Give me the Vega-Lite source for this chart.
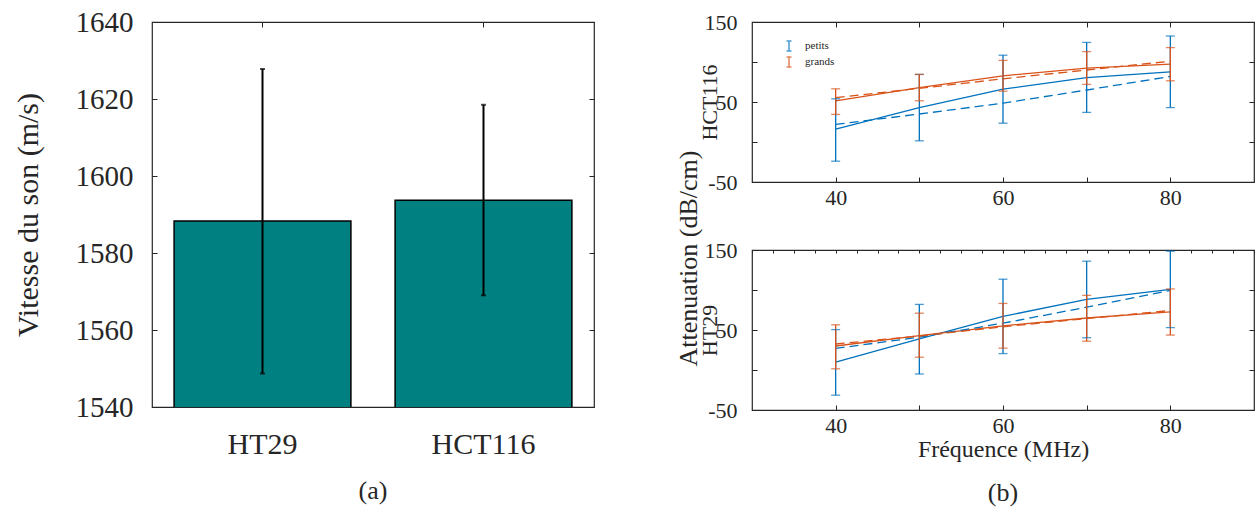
{
  "$schema": "https://vega.github.io/schema/vega-lite/v6.json",
  "padding": {"left": 12, "top": 7, "right": 0, "bottom": 0},
  "background": "white",
  "config": {
    "font": "Liberation Serif",
    "view": {"stroke": "#262626", "strokeWidth": 1.2},
    "style": {"guide-label": {"font": "Liberation Serif", "fill": "#262626"}, "guide-title": {"font": "Liberation Serif", "fill": "#262626", "fontWeight": "normal"}},
    "axis": {"grid": false, "domain": false, "labelFlush": false, "tickColor": "#262626", "tickSize": 5, "offset": -5, "labelColor": "#262626", "titleColor": "#262626", "titleFontWeight": "normal", "labelFont": "Liberation Serif", "titleFont": "Liberation Serif"},
    "title": {"font": "Liberation Serif", "fontWeight": "normal", "color": "#262626"}
  },
  "datasets": {
    "speed": [
      {"line": "HT29", "mean": 1588.3, "lo": 1548.7, "hi": 1627.8},
      {"line": "HCT116", "mean": 1593.7, "lo": 1569.0, "hi": 1618.5}
    ],
    "att": [
      {"line": "HCT116", "size": "petits", "f": 40, "mean": 16, "lo": -24, "hi": 54, "fit": 22},
      {"line": "HCT116", "size": "petits", "f": 50, "mean": 43, "lo": 1.5, "hi": 84.5, "fit": 35},
      {"line": "HCT116", "size": "petits", "f": 60, "mean": 66, "lo": 23.5, "hi": 108.5, "fit": 48.5},
      {"line": "HCT116", "size": "petits", "f": 70, "mean": 80.5, "lo": 37, "hi": 124.5, "fit": 65},
      {"line": "HCT116", "size": "petits", "f": 80, "mean": 87.7, "lo": 43, "hi": 132.5, "fit": 82},
      {"line": "HCT116", "size": "grands", "f": 40, "mean": 51.5, "lo": 34.5, "hi": 66.5, "fit": 55.5},
      {"line": "HCT116", "size": "grands", "f": 50, "mean": 68, "lo": 51.5, "hi": 84.5, "fit": 67},
      {"line": "HCT116", "size": "grands", "f": 60, "mean": 82.7, "lo": 63.5, "hi": 102, "fit": 79},
      {"line": "HCT116", "size": "grands", "f": 70, "mean": 92.4, "lo": 72, "hi": 113, "fit": 90},
      {"line": "HCT116", "size": "grands", "f": 80, "mean": 97.4, "lo": 76.5, "hi": 118, "fit": 101},
      {"line": "HT29", "size": "petits", "f": 40, "mean": 9.7, "lo": -31.5, "hi": 50.5, "fit": 27},
      {"line": "HT29", "size": "petits", "f": 50, "mean": 39, "lo": -5, "hi": 82, "fit": 41},
      {"line": "HT29", "size": "petits", "f": 60, "mean": 67, "lo": 20.5, "hi": 113.5, "fit": 58.5},
      {"line": "HT29", "size": "petits", "f": 70, "mean": 88.2, "lo": 40.3, "hi": 136, "fit": 78.5},
      {"line": "HT29", "size": "petits", "f": 80, "mean": 100.8, "lo": 53, "hi": 148.5, "fit": 99.5},
      {"line": "HT29", "size": "grands", "f": 40, "mean": 30, "lo": 1.5, "hi": 56.5, "fit": 32.5},
      {"line": "HT29", "size": "grands", "f": 50, "mean": 43, "lo": 16, "hi": 71, "fit": 42.5},
      {"line": "HT29", "size": "grands", "f": 60, "mean": 55.2, "lo": 27.3, "hi": 83.2, "fit": 54},
      {"line": "HT29", "size": "grands", "f": 70, "mean": 65, "lo": 36, "hi": 93.3, "fit": 64.3},
      {"line": "HT29", "size": "grands", "f": 80, "mean": 72.6, "lo": 43.7, "hi": 101.3, "fit": 74.4}
    ]
  },
  "bounds": "flush",
  "spacing": 158,
  "hconcat": [
    {
      "width": 442,
      "height": 385,
      "data": {"name": "speed"},
      "title": {"text": "(a)", "orient": "bottom", "fontSize": 26, "offset": 19},
      "resolve": {"axis": {"x": "independent", "y": "independent"}},
      "layer": [
        {"mark": {"type": "bar", "fill": "#008080", "stroke": "black", "strokeWidth": 1.5, "clip": true},
          "encoding": {
            "x": {"field": "line", "type": "nominal", "sort": ["HT29", "HCT116"], "scale": {"paddingInner": 0.2, "paddingOuter": 0.1},
              "axis": {"title": null, "labelAngle": 0, "labelFontSize": 30, "labelPadding": 22}},
            "y": {"field": "mean", "type": "quantitative", "scale": {"domain": [1540, 1640], "zero": false, "nice": false},
              "axis": {"title": "Vitesse du son (m/s)", "titleFontSize": 30, "values": [1540, 1560, 1580, 1600, 1620, 1640], "format": "d", "labelFontSize": 29, "labelPadding": 19, "titlePadding": 32}}}},
        {"mark": {"type": "rule", "color": "black", "strokeWidth": 2}, "encoding": {
          "x": {"field": "line", "type": "nominal", "sort": ["HT29", "HCT116"], "axis": null},
          "y": {"field": "lo", "type": "quantitative", "axis": null}, "y2": {"field": "hi"}}},
        {"mark": {"type": "tick", "color": "black", "size": 5, "thickness": 2, "orient": "horizontal"}, "encoding": {
          "x": {"field": "line", "type": "nominal", "sort": ["HT29", "HCT116"], "axis": null},
          "y": {"field": "lo", "type": "quantitative", "axis": null}}},
        {"mark": {"type": "tick", "color": "black", "size": 5, "thickness": 2, "orient": "horizontal"}, "encoding": {
          "x": {"field": "line", "type": "nominal", "sort": ["HT29", "HCT116"], "axis": null},
          "y": {"field": "hi", "type": "quantitative", "axis": null}}},
        {"mark": {"type": "point", "opacity": 0}, "encoding": {
          "x": {"field": "line", "type": "nominal", "sort": ["HT29", "HCT116"], "axis": {"orient": "top", "labels": false, "title": null}},
          "y": {"field": "mean", "type": "quantitative", "axis": {"orient": "right", "labels": false, "title": null, "values": [1540, 1560, 1580, 1600, 1620, 1640]}}}}
      ]
    },
    {
      "title": {"text": "Attenuation (dB/cm)", "orient": "left", "anchor": "middle", "fontSize": 26, "offset": -5},
      "bounds": "flush",
      "spacing": 68,
      "resolve": {"scale": {"color": "independent"}, "legend": {"color": "independent"}},
      "vconcat": [
        {
          "width": 502,
          "height": 160,
          "data": {"name": "att"},
          "transform": [{"filter": "datum.line == 'HCT116'"}],
          "resolve": {"axis": {"x": "independent", "y": "independent"}},
          "layer": [
            {"mark": {"type": "line", "strokeWidth": 1.3}, "encoding": {
              "x": {"field": "f", "type": "quantitative", "scale": {"domain": [30, 90], "nice": false},
                "axis": {"title": null, "values": [40, 50, 60, 70, 80], "labelExpr": "datum.value % 20 == 0 ? datum.label : ''", "labelFontSize": 22, "labelPadding": 5}},
              "y": {"field": "mean", "type": "quantitative", "scale": {"domain": [-50, 150], "nice": false},
                "axis": {"title": "HCT116", "titleFontSize": 22, "values": [-50, 0, 50, 100, 150], "labelExpr": "abs(datum.value) % 100 == 50 ? '' + datum.value : ''", "labelFontSize": 22, "labelPadding": 15, "titlePadding": -17}},
              "color": {"field": "size", "type": "nominal", "scale": {"domain": ["petits", "grands"], "range": ["#0072BD", "#D95319"]},
                "legend": {"title": null, "orient": "none", "legendX": 31, "legendY": 18, "padding": 0, "labelFontSize": 11, "labelColor": "#262626", "symbolType": "M0,-1L0,1M-0.5,-1L0.5,-1M-0.5,1L0.5,1", "symbolSize": 100, "symbolStrokeWidth": 1.5, "symbolFillColor": "transparent", "rowPadding": 0, "labelOffset": 10}}}},
            {"mark": {"type": "line", "strokeWidth": 1.3, "strokeDash": [9, 5]}, "encoding": {
              "x": {"field": "f", "type": "quantitative", "axis": null},
              "y": {"field": "fit", "type": "quantitative", "axis": null},
              "color": {"field": "size", "type": "nominal"}}},
            {"mark": {"type": "rule", "strokeWidth": 1.3}, "encoding": {
              "x": {"field": "f", "type": "quantitative", "axis": null},
              "y": {"field": "lo", "type": "quantitative", "axis": null}, "y2": {"field": "hi"},
              "color": {"field": "size", "type": "nominal"}}},
            {"mark": {"type": "tick", "size": 9, "thickness": 1.3, "orient": "horizontal"}, "encoding": {
              "x": {"field": "f", "type": "quantitative", "axis": null},
              "y": {"field": "lo", "type": "quantitative", "axis": null},
              "color": {"field": "size", "type": "nominal"}}},
            {"mark": {"type": "tick", "size": 9, "thickness": 1.3, "orient": "horizontal"}, "encoding": {
              "x": {"field": "f", "type": "quantitative", "axis": null},
              "y": {"field": "hi", "type": "quantitative", "axis": null},
              "color": {"field": "size", "type": "nominal"}}},
            {"mark": {"type": "point", "opacity": 0}, "encoding": {
              "x": {"field": "f", "type": "quantitative", "axis": {"orient": "top", "labels": false, "title": null, "values": [40, 50, 60, 70, 80]}},
              "y": {"field": "mean", "type": "quantitative", "axis": {"orient": "right", "labels": false, "title": null, "values": [-50, 0, 50, 100, 150]}}}}
          ]
        },
        {
          "width": 502,
          "height": 160,
          "data": {"name": "att"},
          "transform": [{"filter": "datum.line == 'HT29'"}],
          "title": {"text": "(b)", "orient": "bottom", "fontSize": 26, "offset": 19},
          "resolve": {"axis": {"x": "independent", "y": "independent"}},
          "layer": [
            {"mark": {"type": "line", "strokeWidth": 1.3}, "encoding": {
              "x": {"field": "f", "type": "quantitative", "scale": {"domain": [30, 90], "nice": false},
                "axis": {"title": "Fréquence (MHz)", "titleFontSize": 24, "titlePadding": 1, "values": [40, 50, 60, 70, 80], "labelExpr": "datum.value % 20 == 0 ? datum.label : ''", "labelFontSize": 22, "labelPadding": 5}},
              "y": {"field": "mean", "type": "quantitative", "scale": {"domain": [-50, 150], "nice": false},
                "axis": {"title": "HT29", "titleFontSize": 22, "values": [-50, 0, 50, 100, 150], "labelExpr": "abs(datum.value) % 100 == 50 ? '' + datum.value : ''", "labelFontSize": 22, "labelPadding": 15, "titlePadding": -17}},
              "color": {"field": "size", "type": "nominal", "scale": {"domain": ["petits", "grands"], "range": ["#0072BD", "#D95319"]}, "legend": null}}},
            {"mark": {"type": "line", "strokeWidth": 1.3, "strokeDash": [9, 5]}, "encoding": {
              "x": {"field": "f", "type": "quantitative", "axis": null},
              "y": {"field": "fit", "type": "quantitative", "axis": null},
              "color": {"field": "size", "type": "nominal"}}},
            {"mark": {"type": "rule", "strokeWidth": 1.3}, "encoding": {
              "x": {"field": "f", "type": "quantitative", "axis": null},
              "y": {"field": "lo", "type": "quantitative", "axis": null}, "y2": {"field": "hi"},
              "color": {"field": "size", "type": "nominal"}}},
            {"mark": {"type": "tick", "size": 9, "thickness": 1.3, "orient": "horizontal"}, "encoding": {
              "x": {"field": "f", "type": "quantitative", "axis": null},
              "y": {"field": "lo", "type": "quantitative", "axis": null},
              "color": {"field": "size", "type": "nominal"}}},
            {"mark": {"type": "tick", "size": 9, "thickness": 1.3, "orient": "horizontal"}, "encoding": {
              "x": {"field": "f", "type": "quantitative", "axis": null},
              "y": {"field": "hi", "type": "quantitative", "axis": null},
              "color": {"field": "size", "type": "nominal"}}},
            {"mark": {"type": "point", "opacity": 0}, "encoding": {
              "x": {"field": "f", "type": "quantitative", "axis": {"orient": "top", "labels": false, "title": null, "tickSize": 3, "offset": -3, "values": [30, 32.5, 35, 37.5, 40, 42.5, 45, 47.5, 50, 52.5, 55, 57.5, 60, 62.5, 65, 67.5, 70, 72.5, 75, 77.5, 80, 82.5, 85, 87.5, 90]}},
              "y": {"field": "mean", "type": "quantitative", "axis": {"orient": "right", "labels": false, "title": null, "values": [-50, 0, 50, 100, 150]}}}}
          ]
        }
      ]
    }
  ]
}
